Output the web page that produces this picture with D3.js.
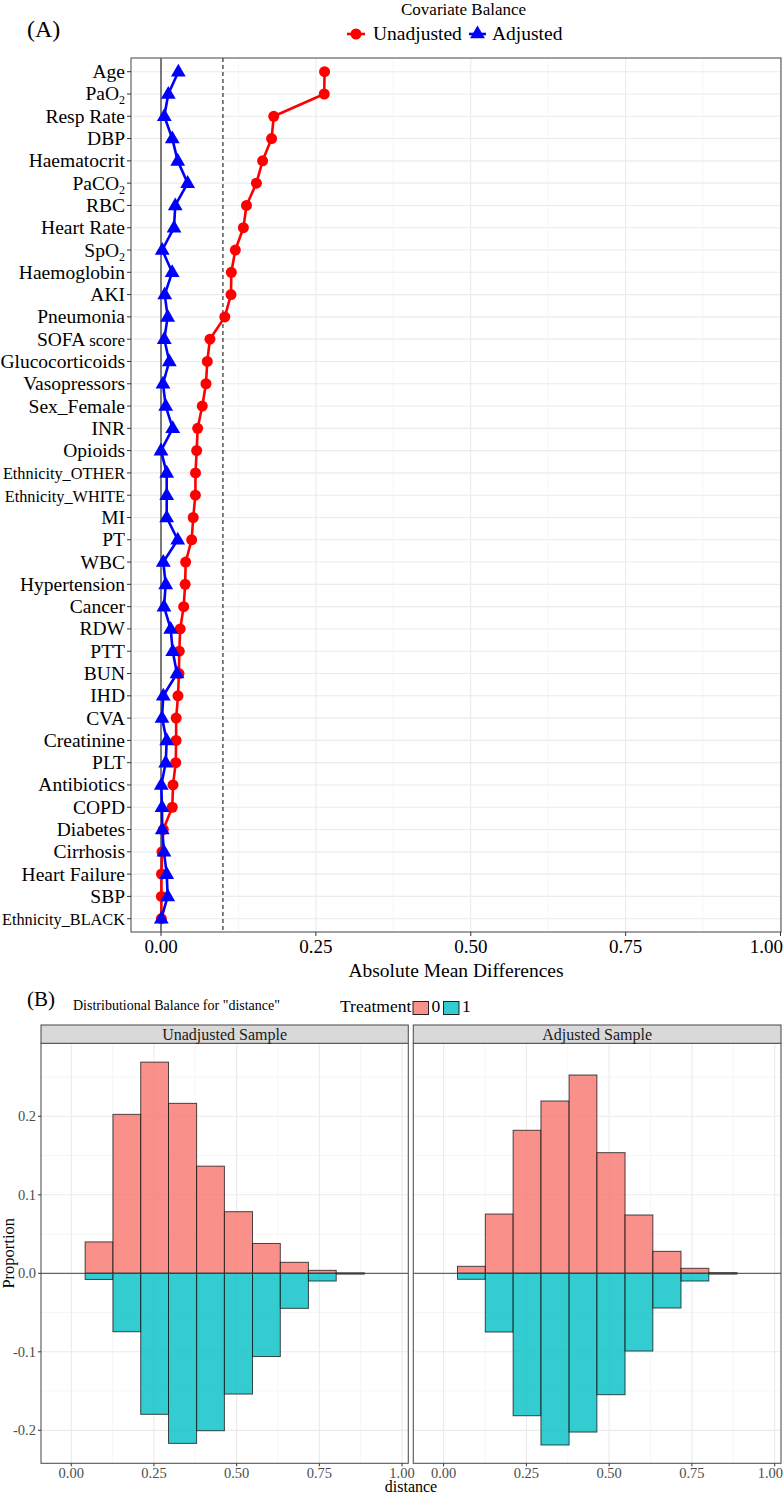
<!DOCTYPE html>
<html>
<head>
<meta charset="utf-8">
<script src="https://cdn.jsdelivr.net/npm/d3@7"></script>
<style>
html,body{margin:0;padding:0;background:#fff;}
svg{display:block;}
text{font-family:"Liberation Serif","Times New Roman",serif;}
</style>
</head>
<body>
<svg id="chart" width="784" height="1496"></svg>
<script>
// ---------- DATA ----------
const covariates = ["Age","PaO2","Resp Rate","DBP","Haematocrit","PaCO2","RBC","Heart Rate","SpO2","Haemoglobin","AKI","Pneumonia","SOFA score","Glucocorticoids","Vasopressors","Sex_Female","INR","Opioids","Ethnicity_OTHER","Ethnicity_WHITE","MI","PT","WBC","Hypertension","Cancer","RDW","PTT","BUN","IHD","CVA","Creatinine","PLT","Antibiotics","COPD","Diabetes","Cirrhosis","Heart Failure","SBP","Ethnicity_BLACK"];
const unadjusted = [0.264,0.2635,0.182,0.1785,0.164,0.154,0.138,0.133,0.120,0.1135,0.113,0.103,0.079,0.0747,0.0726,0.0666,0.0592,0.0576,0.0557,0.0555,0.052,0.0495,0.0398,0.039,0.0366,0.031,0.0295,0.029,0.0274,0.0245,0.0244,0.0238,0.0194,0.0182,0.0037,0.0016,0.0008,0.0007,0.0006];
const adjusted = [0.028,0.0118,0.0053,0.0182,0.027,0.043,0.023,0.021,0.002,0.018,0.006,0.0108,0.0053,0.0134,0.0032,0.0076,0.0189,0.0,0.0092,0.0092,0.0092,0.027,0.0037,0.0076,0.0048,0.0156,0.0189,0.0258,0.0037,0.0016,0.0092,0.0076,0.0005,0.0016,0.002,0.0048,0.0092,0.0108,0.0005];
const xTicksA = [0, 0.25, 0.5, 0.75, 1.0];
const xTickLabelsA = ["0.00","0.25","0.50","0.75","1.00"];
const threshold = 0.1;

const binEdges = [0.042,0.126,0.210,0.294,0.379,0.463,0.548,0.632,0.717,0.801,0.886];
const unadjTreat0 = [0.0400,0.2025,0.2690,0.2165,0.1365,0.0785,0.0380,0.0140,0.0038,0.0005];
const unadjTreat1 = [0.0078,0.0744,0.1796,0.2166,0.2005,0.1538,0.1060,0.0446,0.0098,0.0010];
const adjTreat0 = [0.0089,0.0755,0.1822,0.2195,0.2526,0.1537,0.0743,0.0280,0.0064,0.0008];
const adjTreat1 = [0.0076,0.0748,0.1814,0.2187,0.2022,0.1546,0.0990,0.0442,0.0098,0.0010];
const xTicksB = [0,0.25,0.5,0.75,1.0];
const xTickLabelsB = ["0.00","0.25","0.50","0.75","1.00"];
const yTicksB = [-0.2,-0.1,0.0,0.1,0.2];
const yTickLabelsB = ["-0.2","-0.1","0.0","0.1","0.2"];
const facets = ["Unadjusted Sample","Adjusted Sample"];

// ---------- STYLE ----------
const RED = "#FF0000", BLUE = "#0000FF";
const PINK = "#F8766D", TEAL = "#00BFC4";
const GRID = "#EBEBEB", GRIDMINOR = "#F4F4F4", BORDER = "#555";

const svg = d3.select("#chart");

// ================= PANEL A =================
const A = {left:131, right:781, top:58, bottom:932};
const xA = d3.scaleLinear().domain([0,1]).range([161,780.5]);
const yA = d3.scalePoint().domain(covariates).range([71.7, 918.7]);

const gA = svg.append("g");
gA.append("rect").attr("x",A.left).attr("y",A.top).attr("width",A.right-A.left).attr("height",A.bottom-A.top).attr("fill","#fff");
const minorA = [0.125,0.375,0.625,0.875];
gA.selectAll(".vminA").data(minorA).join("line")
  .attr("x1",d=>xA(d)).attr("x2",d=>xA(d)).attr("y1",A.top).attr("y2",A.bottom)
  .attr("stroke",GRIDMINOR).attr("stroke-width",0.8);
gA.selectAll(".vmajA").data(xTicksA).join("line")
  .attr("x1",d=>xA(d)).attr("x2",d=>xA(d)).attr("y1",A.top).attr("y2",A.bottom)
  .attr("stroke",GRID).attr("stroke-width",1.1);
gA.selectAll(".hA").data(covariates).join("line")
  .attr("x1",A.left).attr("x2",A.right).attr("y1",d=>yA(d)).attr("y2",d=>yA(d))
  .attr("stroke",GRID).attr("stroke-width",1.1);
gA.append("line").attr("x1",xA(0)).attr("x2",xA(0)).attr("y1",A.top).attr("y2",A.bottom)
  .attr("stroke","#000").attr("stroke-width",1);
gA.append("line").attr("x1",xA(threshold)).attr("x2",xA(threshold)).attr("y1",A.top).attr("y2",A.bottom)
  .attr("stroke","#000").attr("stroke-width",1).attr("stroke-dasharray","4,3");

const lineGen = vals => d3.line().x((d,i)=>xA(vals[i])).y((d,i)=>yA(covariates[i]))(covariates);
gA.append("path").attr("d",lineGen(unadjusted)).attr("fill","none").attr("stroke",RED).attr("stroke-width",2.6).attr("stroke-linejoin","round");
gA.selectAll(".ptU").data(unadjusted).join("circle")
  .attr("cx",d=>xA(d)).attr("cy",(d,i)=>yA(covariates[i])).attr("r",5.5).attr("fill",RED);
gA.append("path").attr("d",lineGen(adjusted)).attr("fill","none").attr("stroke",BLUE).attr("stroke-width",2.6).attr("stroke-linejoin","round");
const tri = d3.symbol().type(d3.symbolTriangle).size(95);
gA.selectAll(".ptA").data(adjusted).join("path")
  .attr("d",tri).attr("transform",(d,i)=>`translate(${xA(d)},${yA(covariates[i])+0.5})`).attr("fill",BLUE);

gA.append("rect").attr("x",A.left).attr("y",A.top).attr("width",A.right-A.left).attr("height",A.bottom-A.top)
  .attr("fill","none").attr("stroke",BORDER).attr("stroke-width",1.1);

gA.selectAll(".ytA").data(covariates).join("line")
  .attr("x1",A.left-4).attr("x2",A.left).attr("y1",d=>yA(d)).attr("y2",d=>yA(d)).attr("stroke","#333");
const sub2 = {"PaO2":"PaO","PaCO2":"PaCO","SpO2":"SpO"};
covariates.forEach(c=>{
  const t = gA.append("text").attr("x",A.left-6).attr("y",yA(c)+6.5).attr("text-anchor","end")
    .attr("font-size",19.5).attr("fill","#000");
  if (sub2[c]) {
    t.append("tspan").text(sub2[c]);
    t.append("tspan").attr("font-size",12).attr("dy",4).text("2");
  } else if (c==="SOFA score") {
    t.append("tspan").text("SOFA ");
    t.append("tspan").attr("font-size",17).text("score");
  } else if (c.startsWith("Ethnicity")) {
    t.attr("font-size",16.3).text(c);
  } else t.text(c);
});
gA.selectAll(".xtA").data(xTicksA).join("line")
  .attr("x1",d=>xA(d)).attr("x2",d=>xA(d)).attr("y1",A.bottom).attr("y2",A.bottom+4).attr("stroke","#333");
gA.selectAll(".xlA").data(xTicksA).join("text")
  .attr("x",(d,i)=> i===xTicksA.length-1 ? 783 : xA(d)).attr("y",953)
  .attr("text-anchor",(d,i)=> i===xTicksA.length-1 ? "end" : "middle")
  .attr("font-size",19).attr("fill","#000")
  .text((d,i)=>xTickLabelsA[i]);
gA.append("text").attr("x",(A.left+A.right)/2).attr("y",977).attr("text-anchor","middle").attr("font-size",19.5)
  .text("Absolute Mean Differences");

// title & legend
svg.append("text").attr("x",27).attr("y",37).attr("font-size",24).attr("font-family","'Noto Sans CJK SC','Liberation Serif',serif").attr("font-weight",300).text("(A)");
svg.append("text").attr("x",401).attr("y",15).attr("font-size",17).text("Covariate Balance");
const lg = svg.append("g");
lg.append("line").attr("x1",347).attr("x2",365).attr("y1",34).attr("y2",34).attr("stroke",RED).attr("stroke-width",2.6);
lg.append("circle").attr("cx",356).attr("cy",34).attr("r",5.5).attr("fill",RED);
lg.append("text").attr("x",373).attr("y",40).attr("font-size",19.5).text("Unadjusted");
lg.append("line").attr("x1",469).attr("x2",486).attr("y1",34).attr("y2",34).attr("stroke",BLUE).attr("stroke-width",2.6);
lg.append("path").attr("d",tri).attr("transform","translate(477.5,34)").attr("fill",BLUE);
lg.append("text").attr("x",492).attr("y",40).attr("font-size",19.5).text("Adjusted");

// ================= PANEL B =================
const B = {top:1043.3, bottom:1463.3};
const panelsB = [
  {name:facets[0], left:41, right:408.3, t0:unadjTreat0, t1:unadjTreat1},
  {name:facets[1], left:413.3, right:781, t0:adjTreat0, t1:adjTreat1}
];
const yB = d3.scaleLinear().domain([-0.242,0.293]).range([B.bottom,B.top]);
const minorYB = [-0.15,-0.05,0.05,0.15,0.25];
const minorXB = [0.125,0.375,0.625,0.875];

panelsB.forEach((p,pi)=>{
  const xB = d3.scaleLinear().domain([-0.0915,1.019]).range([p.left,p.right]);
  const g = svg.append("g");
  g.append("rect").attr("x",p.left).attr("y",B.top).attr("width",p.right-p.left).attr("height",B.bottom-B.top).attr("fill","#fff");
  g.selectAll(".mx").data(minorXB).join("line").attr("x1",d=>xB(d)).attr("x2",d=>xB(d)).attr("y1",B.top).attr("y2",B.bottom).attr("stroke",GRIDMINOR).attr("stroke-width",0.8);
  g.selectAll(".my").data(minorYB).join("line").attr("y1",d=>yB(d)).attr("y2",d=>yB(d)).attr("x1",p.left).attr("x2",p.right).attr("stroke",GRIDMINOR).attr("stroke-width",0.8);
  g.selectAll(".Mx").data(xTicksB).join("line").attr("x1",d=>xB(d)).attr("x2",d=>xB(d)).attr("y1",B.top).attr("y2",B.bottom).attr("stroke",GRID).attr("stroke-width",1.1);
  g.selectAll(".My").data(yTicksB).join("line").attr("y1",d=>yB(d)).attr("y2",d=>yB(d)).attr("x1",p.left).attr("x2",p.right).attr("stroke",GRID).attr("stroke-width",1.1);
  const bins = p.t0.map((v,i)=>({x0:binEdges[i],x1:binEdges[i+1],v0:v,v1:p.t1[i]}));
  g.selectAll(".b0").data(bins).join("rect")
    .attr("x",d=>xB(d.x0)).attr("width",d=>xB(d.x1)-xB(d.x0))
    .attr("y",d=>yB(d.v0)).attr("height",d=>yB(0)-yB(d.v0))
    .attr("fill",PINK).attr("fill-opacity",0.8).attr("stroke","#111").attr("stroke-opacity",0.75).attr("stroke-width",1);
  g.selectAll(".b1").data(bins).join("rect")
    .attr("x",d=>xB(d.x0)).attr("width",d=>xB(d.x1)-xB(d.x0))
    .attr("y",yB(0)).attr("height",d=>yB(-d.v1)-yB(0))
    .attr("fill",TEAL).attr("fill-opacity",0.8).attr("stroke","#111").attr("stroke-opacity",0.75).attr("stroke-width",1);
  g.append("line").attr("x1",p.left).attr("x2",p.right).attr("y1",yB(0)).attr("y2",yB(0)).attr("stroke","#444").attr("stroke-width",1);
  g.append("rect").attr("x",p.left).attr("y",B.top).attr("width",p.right-p.left).attr("height",B.bottom-B.top).attr("fill","none").attr("stroke",BORDER).attr("stroke-width",1.1);
  g.append("rect").attr("x",p.left).attr("y",1025).attr("width",p.right-p.left).attr("height",B.top-1025).attr("fill","#D9D9D9").attr("stroke",BORDER).attr("stroke-width",1.1);
  g.append("text").attr("x",(p.left+p.right)/2).attr("y",1039.5).attr("text-anchor","middle").attr("font-size",16).attr("fill","#1a1a1a").text(p.name);
  g.selectAll(".xt").data(xTicksB).join("line").attr("x1",d=>xB(d)).attr("x2",d=>xB(d)).attr("y1",B.bottom).attr("y2",B.bottom+3).attr("stroke","#333");
  const lastIdx = xTicksB.length-1;
  g.selectAll(".xl").data(xTicksB).join("text")
    .attr("x",(d,i)=> (pi===1 && i===lastIdx) ? 783 : xB(d)).attr("y",1477.5)
    .attr("text-anchor",(d,i)=> (pi===1 && i===lastIdx) ? "end" : "middle")
    .attr("font-size",14.5).attr("fill","#4D4D4D").text((d,i)=>xTickLabelsB[i]);
  if (pi===0) {
    g.selectAll(".yt").data(yTicksB).join("line").attr("x1",p.left-3).attr("x2",p.left).attr("y1",d=>yB(d)).attr("y2",d=>yB(d)).attr("stroke","#333");
    g.selectAll(".yl").data(yTicksB).join("text").attr("x",p.left-5).attr("y",d=>yB(d)+5).attr("text-anchor","end").attr("font-size",14.5).attr("fill","#4D4D4D").text((d,i)=>yTickLabelsB[i]);
  }
});
svg.append("text").attr("transform",`translate(14,${(B.top+B.bottom)/2}) rotate(-90)`).attr("text-anchor","middle").attr("font-size",16.5).text("Proportion");
svg.append("text").attr("x",411).attr("y",1492).attr("text-anchor","middle").attr("font-size",16).text("distance");

// B title & legend
svg.append("text").attr("x",27).attr("y",1006).attr("font-size",21).attr("font-family","'Noto Sans CJK SC','Liberation Serif',serif").attr("font-weight",300).text("(B)");
svg.append("text").attr("x",73).attr("y",1010).attr("font-size",14).text('Distributional Balance for "distance"');
svg.append("text").attr("x",340).attr("y",1012).attr("font-size",17.5).text("Treatment");
const lgB = [{c:PINK,l:"0",x:413},{c:TEAL,l:"1",x:443.5}];
lgB.forEach(k=>{
  svg.append("rect").attr("x",k.x).attr("y",1001.5).attr("width",15.5).attr("height",13).attr("fill",k.c).attr("fill-opacity",0.8).attr("stroke","#222").attr("stroke-width",1);
  svg.append("text").attr("x",k.x+18.5).attr("y",1012).attr("font-size",17.5).text(k.l);
});
</script>
</body>
</html>
